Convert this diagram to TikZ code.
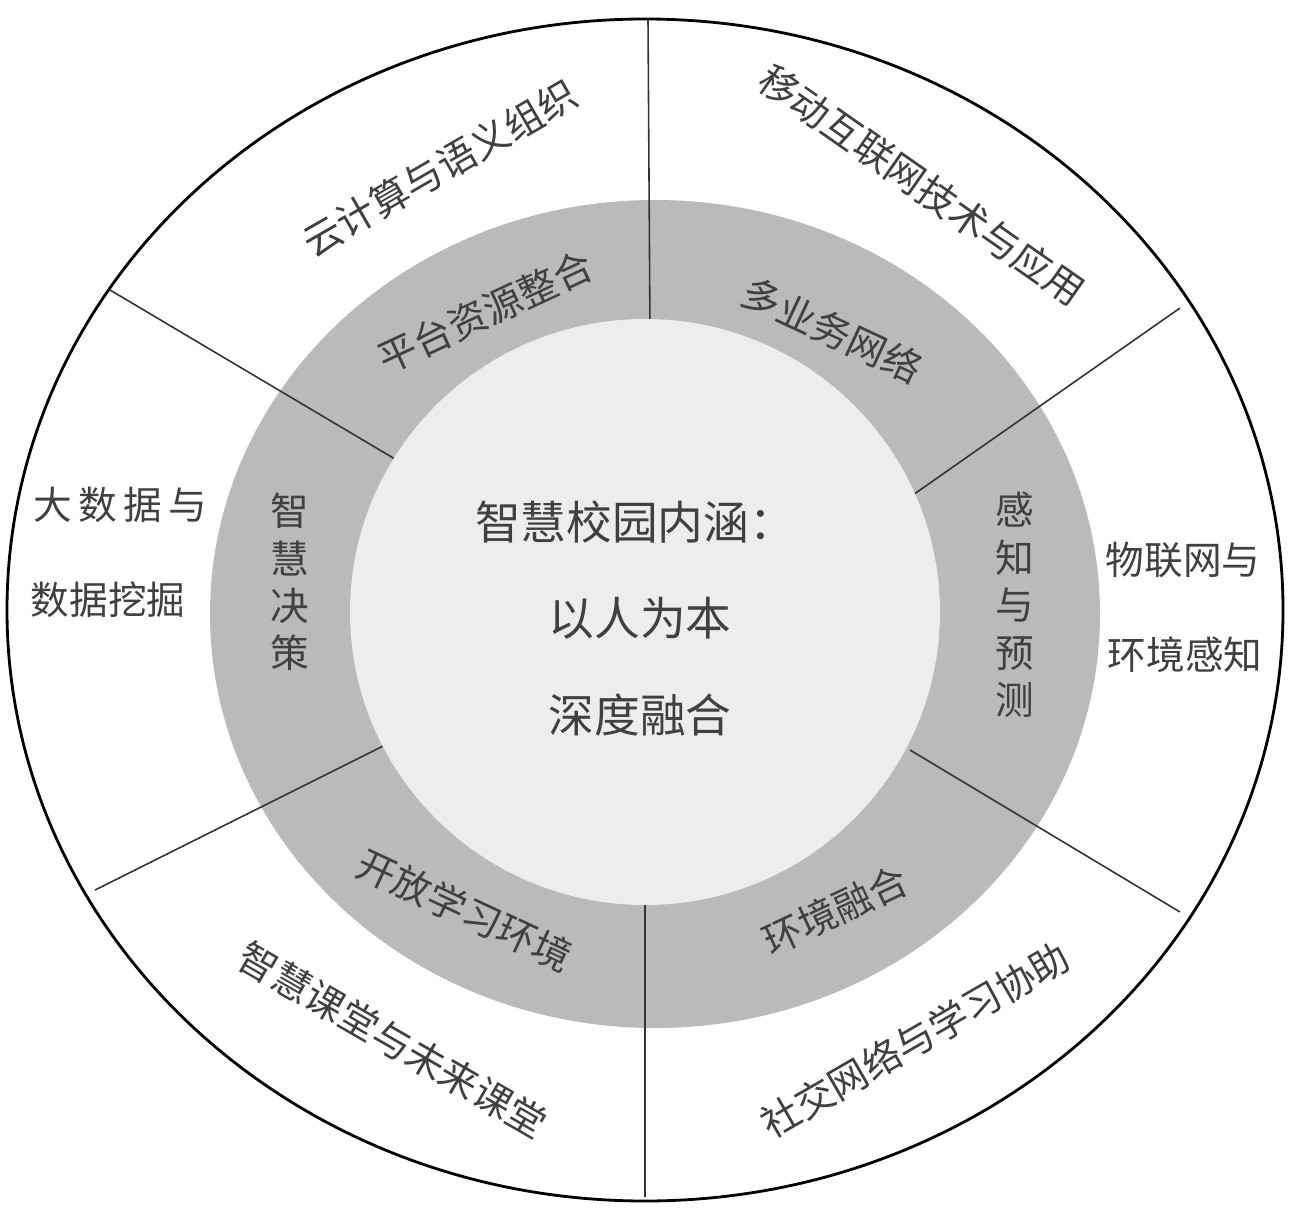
\documentclass[tikz,border=0pt]{standalone}
\usepackage{fontspec}
\setmainfont{Noto Sans CJK SC}
\begin{document}
\begin{tikzpicture}[x=0.02cm,y=-0.02cm,
  lbl/.style={font=\fontsize{22}{24}\selectfont,text=black!75,inner sep=0pt},
  vlbl/.style={lbl,align=center,font=\fontsize{22}{27}\selectfont},
  ctr/.style={font=\fontsize{26}{28}\selectfont,text=black!75,inner sep=0pt},
  sep/.style={draw=black!80,line width=0.9pt}]
\useasboundingbox (0,0) rectangle (1290,1209);
\draw[black,line width=1.6pt,fill=white] (645,610) ellipse [x radius=638,y radius=591];
\fill[black!27] (655,614) ellipse [x radius=445,y radius=414];
\coordinate (t1) at (648,20); \coordinate (t2) at (650,333);
\coordinate (b1) at (645,1197); \coordinate (b2) at (645,905);
\coordinate (ul1) at (110,290); \coordinate (ul2) at (405,465);
\coordinate (ur1) at (1180,308); \coordinate (ur2) at (910,497);
\coordinate (ll1) at (95,890); \coordinate (ll2) at (385,745);
\coordinate (lr1) at (1180,912); \coordinate (lr2) at (910,750);
\foreach \a/\b in {t1/t2,b1/b2,ul1/ul2,ur1/ur2,ll1/ll2,lr1/lr2} \draw[sep] (\a)--(\b);
\fill[black!7] (645,612) ellipse [x radius=295,y radius=293];
\node[ctr] (c1) at (635,522) {智慧校园内涵：};
\node[ctr] (c2) at (640,618) {以人为本};
\node[ctr] (c3) at (640,715) {深度融合};
\node[lbl,rotate=30] (o1) at (440,168) {云计算与语义组织};
\node[lbl,rotate=-35] (o2) at (922,185) {移动互联网技术与应用};
\node[lbl,rotate=25] (r1) at (485,312) {平台资源整合};
\node[lbl,rotate=-25] (r2) at (832,330) {多业务网络};
\node[vlbl] (r3) at (290,582) {智\\慧\\决\\策};
\node[vlbl] (r4) at (1015,605) {感\\知\\与\\预\\测};
\node[lbl,rotate=-25] (r5) at (465,910) {开放学习环境};
\node[lbl,rotate=25] (r6) at (835,910) {环境融合};
\node[lbl,rotate=-30] (o3) at (393,1040) {智慧课堂与未来课堂};
\node[lbl,rotate=30] (o4) at (915,1040) {社交网络与学习协助};
\node[lbl] (o5) at (120,505) {大\,数\,据\,与};
\node[lbl] (o6) at (108,600) {数据挖掘};
\node[lbl] (o7) at (1183,560) {物联网与};
\node[lbl] (o8) at (1185,655) {环境感知};
\end{tikzpicture}
\end{document}
